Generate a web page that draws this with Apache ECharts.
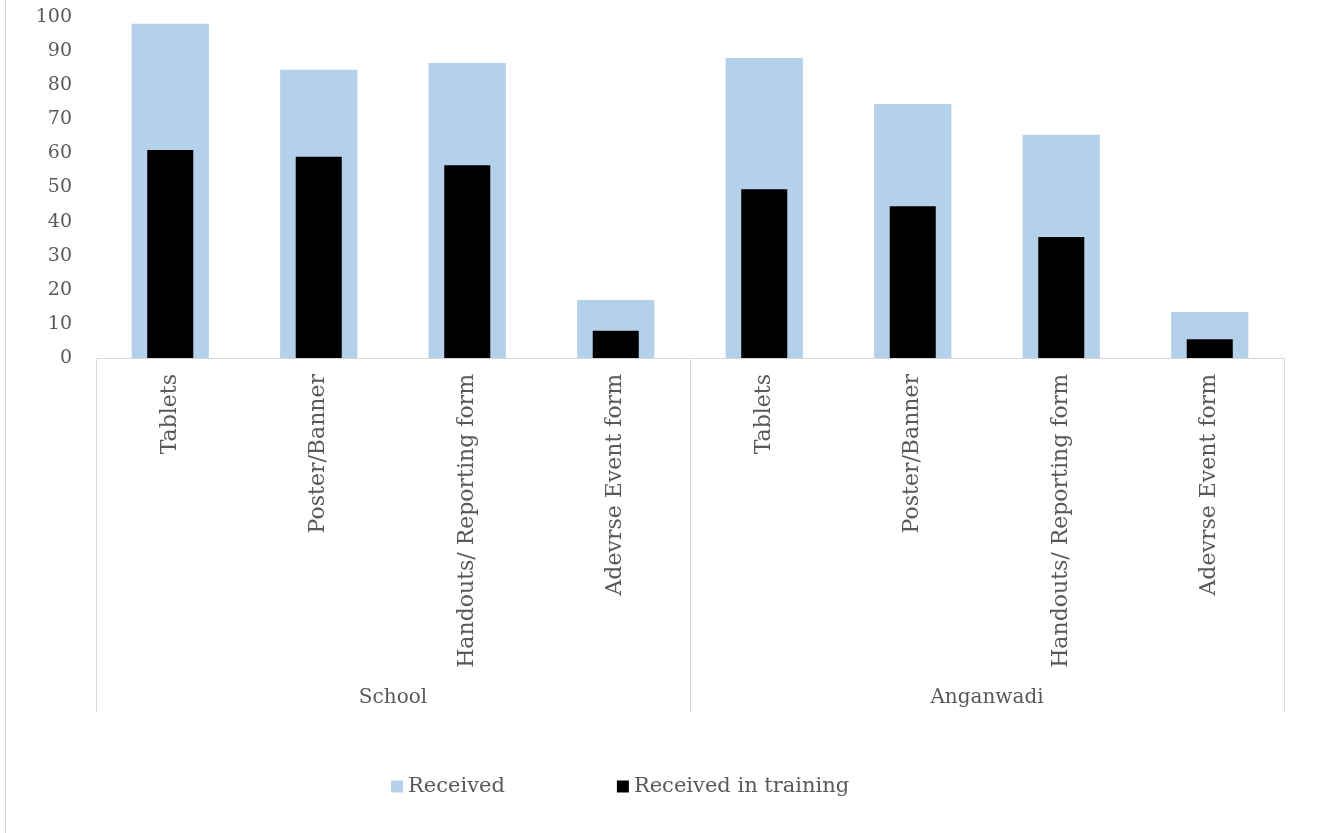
<!DOCTYPE html>
<html>
<head>
<meta charset="utf-8">
<script src="https://cdn.jsdelivr.net/npm/echarts@6/dist/echarts.min.js"></script>
<style>html,body{margin:0;padding:0;background:#fff}#c{width:1327px;height:833px}</style>
</head>
<body>
<div id="c"></div>
<script>
const categories = ['Tablets','Poster/Banner','Handouts/ Reporting form','Adevrse Event form','Tablets','Poster/Banner','Handouts/ Reporting form','Adevrse Event form'];
const groups = ['School','Anganwadi'];
const received = [98, 84.5, 86.5, 17, 88, 74.5, 65.5, 13.5];
const receivedTraining = [61, 59, 56.5, 8, 49.5, 44.5, 35.5, 5.5];
const seriesNames = ['Received','Received in training'];

const FONT = 'DejaVu Serif';
const TXT = '#595959';
const chart = echarts.init(document.getElementById('c'), null, {renderer:'canvas'});
chart.setOption({
  animation:false,
  backgroundColor:'#fff',
  graphic:[{type:'rect', silent:true, shape:{x:5.5,y:-5,width:2000,height:2000}, style:{fill:'none', stroke:'#d9d9d9', lineWidth:1}}],
  grid:{left:96, right:43, top:17, bottom:475, containLabel:false},
  legend:{
    left:386, top:771, itemWidth:12, itemHeight:12, itemGap:112, icon:'rect',
    textStyle:{fontFamily:FONT, fontSize:21, color:TXT},
    data:seriesNames
  },
  xAxis:[
    {type:'category', data:categories, position:'bottom',
     axisLine:{show:true, lineStyle:{color:'#d9d9d9', width:1}},
     axisTick:{show:false},
     axisLabel:{interval:0, rotate:90, margin:16, fontFamily:FONT, fontSize:22, color:TXT}},
    {type:'category', data:groups, position:'bottom', offset:354,
     axisLine:{show:false},
     axisTick:{show:true, inside:true, length:354, lineStyle:{color:'#d9d9d9', width:1}},
     axisLabel:{inside:true, margin:4, fontFamily:FONT, fontSize:20, color:TXT}},
    {type:'category', data:categories, show:false}
  ],
  yAxis:{type:'value', min:0, max:100, interval:10,
    axisLine:{show:false}, axisTick:{show:false}, splitLine:{show:false},
    axisLabel:{margin:24, fontFamily:FONT, fontSize:19, color:TXT}},
  series:[
    {name:seriesNames[0], type:'bar', xAxisIndex:0, data:received, barWidth:'52%', itemStyle:{color:'#b4d0ea'}},
    {name:seriesNames[1], type:'bar', xAxisIndex:2, data:receivedTraining, barWidth:'31%', itemStyle:{color:'#000000'}}
  ]
});
</script>
</body>
</html>
